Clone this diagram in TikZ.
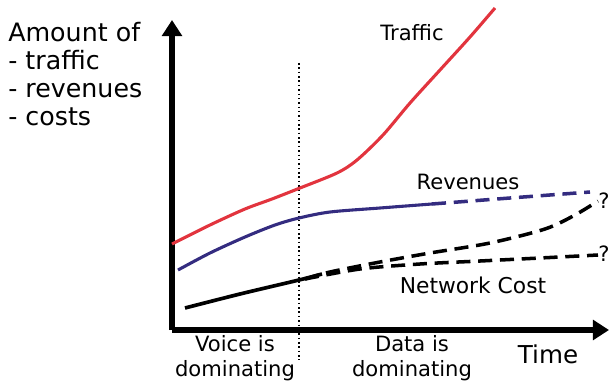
\documentclass[tikz,border=0pt]{standalone}
\usepackage{fontspec}
\setmainfont{DejaVu Sans}
\usetikzlibrary{arrows.meta}

\definecolor{trafficred}{RGB}{226,52,62}
\definecolor{revblue}{RGB}{52,44,128}

\tikzset{
    axis/.style={line width=3.6pt, -{Triangle[length=11.5pt,width=14pt]}},
    curve/.style={line width=2.2pt, smooth},
    future/.style={line width=2.5pt, smooth, dash pattern=on 10pt off 5.5pt},
    lbl/.style={inner sep=0pt, font=\fontsize{15}{17}\selectfont}
}

\begin{document}
\begin{tikzpicture}[x=0.025cm, y=-0.025cm]

    \useasboundingbox (0,0) rectangle (609,380);

    %axes:
    \coordinate (origin) at (172,330);
    \coordinate (ytip) at (172,20);
    \coordinate (xtip) at (609,330);
    \draw[axis] (origin) -- (ytip);
    \draw[axis] (origin) -- (xtip);

    %split voice/data:
    \coordinate (splittop) at (299,63);
    \coordinate (splitbot) at (299,360);
    \draw[line width=1.1pt, dotted] (splittop) -- (splitbot);

    %traffic:
    \draw[curve, trafficred] plot coordinates {(172,244) (210,225) (245,209) (272,199)
        (300,188) (337,173) (357,160) (383,135) (410,103) (440,70) (470,37) (495,8)};
    %revenues:
    \draw[curve, revblue] plot coordinates {(178,270) (210,253) (245,237) (275,225)
        (299,218) (330,212) (380,208) (432,204)};
    \draw[future, revblue] plot coordinates {(432,204) (510,198) (590,192)};
    %cost:
    \draw[curve, black, line width=2.6pt] plot coordinates {(185,308) (240,294) (299,280) (322,274)};
    \draw[future] plot coordinates {(305,279) (330,272) (380,262) (430,253) (490,243)
        (545,229) (575,215) (598,201)};
    \draw[future] plot coordinates {(305,279) (360,269) (420,264) (480,261) (540,258) (598,255)};

    %labels:
    \node[lbl, anchor=north west, align=left, font=\fontsize{18}{20}\selectfont]
        (amount) at (8,22) {Amount of\\- traffic\\- revenues\\- costs};
    \node[lbl] (traffic) at (412,33) {Traffic};
    \node[lbl] (revenues) at (468,182) {Revenues};
    \node[lbl, font=\fontsize{15.5}{17}\selectfont] (netcost) at (473,285) {Network Cost};
    \node[lbl, font=\fontsize{15}{18}\selectfont, align=center] (voice) at (235,358)
        {Voice is\\dominating};
    \node[lbl, font=\fontsize{15}{18}\selectfont, align=center] (data) at (412,358)
        {Data is\\dominating};
    \node[lbl, font=\fontsize{17.5}{20}\selectfont] (time) at (548,354) {Time};
    \node[lbl, anchor=west] (qup) at (598,201) {?};
    \node[lbl, anchor=west] (qlow) at (598,254) {?};

\end{tikzpicture}
\end{document}
